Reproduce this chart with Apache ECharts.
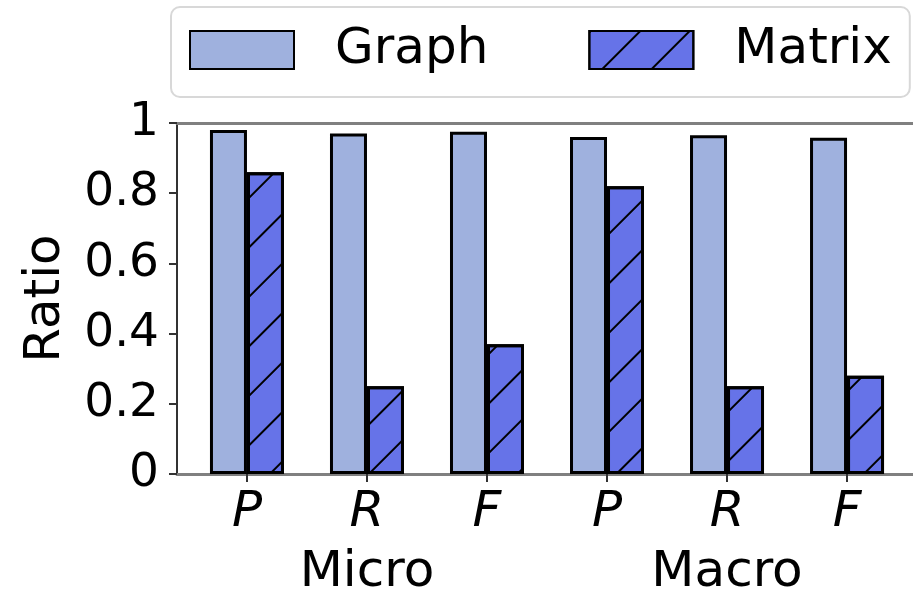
<!DOCTYPE html>
<html>
<head>
<meta charset="utf-8">
<script src="https://cdn.jsdelivr.net/npm/echarts@6/dist/echarts.min.js"></script>
<style>
  html, body { margin: 0; padding: 0; background: #fff; }
  #chart { width: 913px; height: 590px; }
</style>
</head>
<body>
<div id="chart"></div>
<script>
// data
const metrics = ['P', 'R', 'F', 'P', 'R', 'F'];
const groups = ['Micro', 'Macro'];
const groupPos = [1, 4];
const graphVals = [0.98, 0.97, 0.975, 0.96, 0.965, 0.958];
const matrixVals = [0.86, 0.25, 0.37, 0.82, 0.25, 0.28];
const yTicks = [0, 0.2, 0.4, 0.6, 0.8, 1];

const font = 'DejaVu Sans';
const tickPos = metrics.map((m, i) => i);

const chart = echarts.init(document.getElementById('chart'), null, { renderer: 'canvas' });

const xBase = { type: 'value', min: -0.583, max: 5.583, gridIndex: 0, splitLine: { show: false } };

chart.setOption({
  animation: false,
  backgroundColor: '#fff',
  grid: { left: 177, right: -4, top: 123, bottom: 116, containLabel: false, outerBoundsMode: 'none' },
  legend: {
    left: 171, top: 7,
    padding: [18, 18, 22, 18],
    icon: 'rect',
    itemWidth: 104, itemHeight: 38, itemGap: 100,
    backgroundColor: '#fff',
    borderColor: '#d8d8d8', borderWidth: 2, borderRadius: 9,
    textStyle: { fontFamily: font, fontSize: 50, color: '#000', padding: [0, 0, 0, 36] },
    data: ['Graph', 'Matrix']
  },
  xAxis: [
    Object.assign({}, xBase, {
      position: 'bottom',
      axisLine: { show: true, onZero: false, lineStyle: { color: '#808080', width: 3 } },
      axisTick: { show: true, customValues: tickPos, length: 8, lineStyle: { color: '#333', width: 2 } },
      axisLabel: {
        customValues: tickPos, margin: 14,
        formatter: v => metrics[Math.round(v)],
        fontFamily: font, fontStyle: 'italic', fontSize: 50, color: '#000'
      }
    }),
    Object.assign({}, xBase, {
      position: 'bottom', offset: 60,
      axisLine: { show: false, onZero: false }, axisTick: { show: false },
      axisLabel: {
        customValues: groupPos, margin: 14,
        formatter: v => groups[groupPos.indexOf(Math.round(v))],
        fontFamily: font, fontSize: 50, color: '#000'
      }
    }),
    Object.assign({}, xBase, {
      position: 'top',
      axisLine: { show: true, onZero: false, lineStyle: { color: '#808080', width: 3 } },
      axisTick: { show: false }, axisLabel: { show: false }
    })
  ],
  yAxis: {
    type: 'value', min: 0, max: 1, interval: 0.2,
    name: 'Ratio', nameLocation: 'middle', nameGap: 106,
    nameTextStyle: { fontFamily: font, fontSize: 50, color: '#000' },
    splitLine: { show: false },
    axisLine: { show: true, onZero: false, lineStyle: { color: '#333', width: 2 } },
    axisTick: { show: true, length: 8, lineStyle: { color: '#333', width: 2 } },
    axisLabel: {
      margin: 18, fontFamily: font, fontSize: 47, color: '#000',
      formatter: v => String(yTicks[Math.round(v / 0.2)])
    }
  },
  series: [
    {
      name: 'Graph', type: 'bar', xAxisIndex: 0,
      barWidth: 37, barGap: '0%',
      data: graphVals.map((v, i) => [i, v]),
      itemStyle: { color: '#9fb1de', borderColor: '#000', borderWidth: 3 }
    },
    {
      name: 'Matrix', type: 'bar', xAxisIndex: 0,
      barWidth: 37, barGap: '0%',
      data: matrixVals.map((v, i) => [i, v]),
      itemStyle: {
        color: '#6673e8', borderColor: '#000', borderWidth: 3,
        decal: {
          symbol: 'rect', symbolSize: 1,
          dashArrayX: [1, 0], dashArrayY: [2, 33],
          rotation: -Math.PI / 4, color: '#000'
        }
      }
    }
  ]
});
</script>
</body>
</html>
